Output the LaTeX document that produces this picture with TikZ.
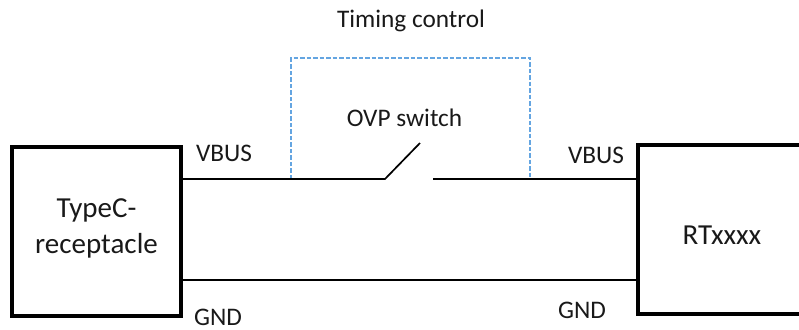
\documentclass[tikz,border=0pt]{standalone}
\usepackage{fontspec}
\setmainfont{Carlito}
\definecolor{dashblue}{RGB}{100,165,225}
\tikzset{
  boxline/.style={draw=black,line width=3.2bp},
  wire/.style={draw=black,line width=1.7bp},
  ctrl/.style={draw=dashblue,line width=1.7bp,dash pattern=on 4.5bp off 2bp},
  lbl/.style={inner sep=0pt,font=\fontsize{25.3bp}{30bp}\selectfont,text=black!90},
  biglbl/.style={inner sep=0pt,font=\fontsize{29bp}{36bp}\selectfont,text=black!90,align=center}
}
\begin{document}
\begin{tikzpicture}[x=1bp,y=-1bp]
\useasboundingbox (0,0) rectangle (799,329);
% left block
\node[boxline,minimum width=169bp,minimum height=169bp,inner sep=0pt,outer sep=0pt,anchor=north west] (L) at (12,147) {};
\node[biglbl] (Ltext) at (96.5,228) {TypeC-\\receptacle};
% right block, running off the page
\coordinate (Rtr) at (799,145);
\coordinate (Rtl) at (638,145);
\coordinate (Rbl) at (638,314);
\coordinate (Rbr) at (799,314);
\draw[boxline,line join=miter] (Rtr) -- (Rtl) -- (Rbl) -- (Rbr);
\node[biglbl] (Rtext) at (722,235) {RTxxxx};
% wires
\coordinate (Lv) at (181,179);
\coordinate (Rv) at (638,179);
\coordinate (Lg) at (181,280);
\coordinate (Rg) at (638,280);
\coordinate (SwA) at (385,179);
\coordinate (SwB) at (433,179);
\coordinate (SwT) at (420,143);
\coordinate (Ca) at (291,179);
\coordinate (Cb) at (530,179);
\coordinate (Cat) at (291,58);
\coordinate (Cbt) at (530,58);
\draw[ctrl] (Ca) -- (Cat) -- (Cbt) -- (Cb);
\draw[wire] (Lv) -- (SwA) -- (SwT);
\draw[wire] (SwB) -- (Rv);
\draw[wire] (Lg) -- (Rg);
% labels
\node[lbl] (T) at (411,21) {Timing control};
\node[lbl] (O) at (404.5,118) {OVP switch};
\node[lbl] (V1) at (224,153) {VBUS};
\node[lbl] (V2) at (596,155.5) {VBUS};
\node[lbl] (G1) at (218,317.5) {GND};
\node[lbl] (G2) at (582,310) {GND};
\end{tikzpicture}
\end{document}
